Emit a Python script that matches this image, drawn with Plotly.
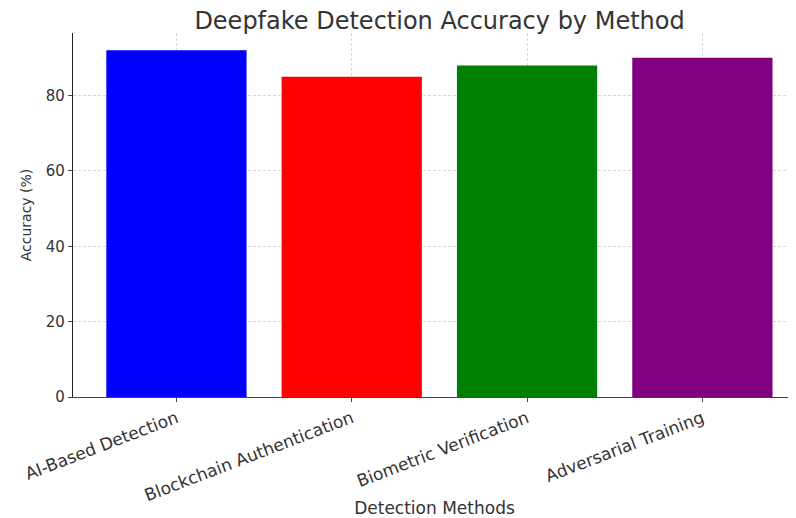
import plotly.graph_objects as go

methods = ["AI-Based Detection", "Blockchain Authentication", "Biometric Verification", "Adversarial Training"]
accuracy = [92, 85, 88, 90]
colors = ["#0000ff", "#ff0000", "#008000", "#800080"]
y_ticks = [0, 20, 40, 60, 80]

FONT = "DejaVu Sans"
TXT = "#333333"
GRID = "rgba(200,200,200,0.7)"

idx = list(range(len(methods)))
xr = [-0.59, 3.534]
yr = [0, 96.6]

fig = go.Figure()
fig.add_trace(go.Bar(x=idx, y=accuracy, marker=dict(color=colors, line=dict(width=0)),
                     width=0.8, showlegend=False, hoverinfo="x+y"))
# overlay axes to draw the grid above the bars
fig.add_trace(go.Scatter(x=[None], y=[None], xaxis="x2", yaxis="y2", showlegend=False, hoverinfo="skip"))

fig.update_layout(
    width=788, height=510,
    margin=dict(l=65, r=0, t=25, b=121, autoexpand=False),
    paper_bgcolor="white", plot_bgcolor="white",
    font=dict(family=FONT, color=TXT),
    title=dict(text="Deepfake Detection Accuracy by Method", x=0.507, xref="paper", xanchor="center",
               y=0.976, yref="container", yanchor="middle", font=dict(size=24, color=TXT)),
    xaxis=dict(range=xr, tickmode="array", tickvals=idx, ticktext=methods, tickangle=-21,
               tickfont=dict(size=17, color=TXT), showgrid=False, zeroline=False,
               showline=True, linecolor="#444444", linewidth=1.2, ticks="outside", ticklen=4,
               tickcolor="#444444", automargin=False,
               title=dict(text="Detection Methods", font=dict(size=17, color=TXT), standoff=6)),
    yaxis=dict(range=yr, tickmode="array", tickvals=y_ticks, tickfont=dict(size=15, color=TXT),
               showgrid=False, zeroline=False, showline=True, linecolor="#222222", linewidth=1.2,
               ticks="outside", ticklen=4, tickcolor="#444444", automargin=False,
               title=dict(text="Accuracy (%)", font=dict(size=14, color=TXT), standoff=10)),
    xaxis2=dict(range=xr, overlaying="x", anchor="y2", tickmode="array", tickvals=idx,
                showticklabels=False, showgrid=True, gridcolor=GRID, griddash="3px,2px", gridwidth=0.8,
                zeroline=False, showline=False),
    yaxis2=dict(range=yr, overlaying="y", anchor="x2", tickmode="array", tickvals=y_ticks,
                showticklabels=False, showgrid=True, gridcolor=GRID, griddash="3px,2px", gridwidth=0.8,
                zeroline=False, showline=False),
    bargap=0.2,
)

fig.write_html("out.html")
